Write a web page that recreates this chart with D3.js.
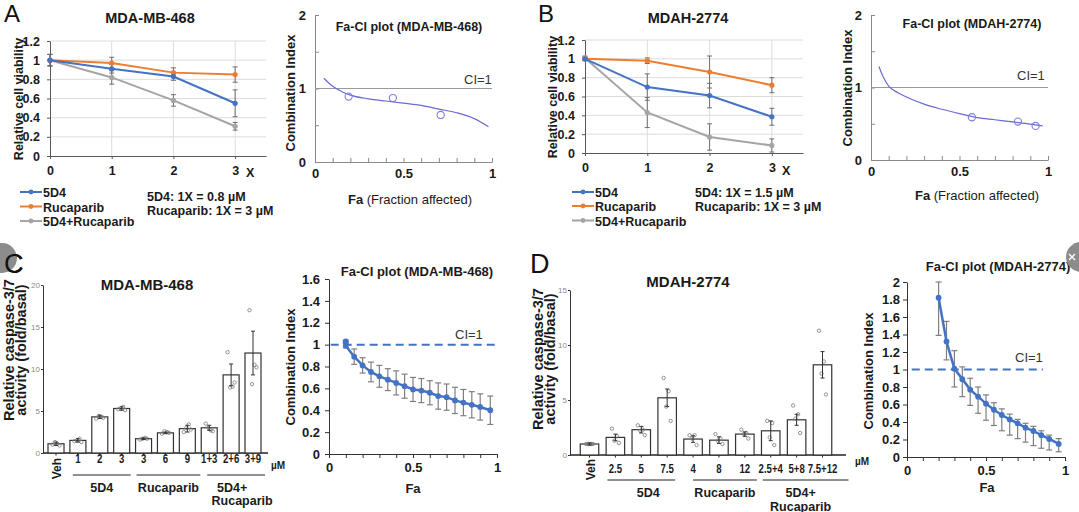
<!DOCTYPE html>
<html><head><meta charset="utf-8">
<script src="https://cdn.jsdelivr.net/npm/d3@7/dist/d3.min.js"></script>
<style>body{margin:0;background:#fff}svg{display:block}</style>
</head><body>
<svg id="chart" width="1079" height="512"></svg>
<script>
// ---------------- DATA ----------------
const doses = [0, 1, 2, 3];
const doseLabels = ["0", "1", "2", "3"];
const viabTicks = [0, 0.2, 0.4, 0.6, 0.8, 1, 1.2];
const viabTickLabels = ["0", "0.2", "0.4", "0.6", "0.8", "1", "1.2"];
const seriesNames = ["5D4", "Rucaparib", "5D4+Rucaparib"];

// Panel A (MDA-MB-468) viability
const viabA_5D4 = [1, 0.91, 0.83, 0.55];
const errA_5D4 = [0.06, 0.045, 0.04, 0.14];
const viabA_Ruca = [1, 0.97, 0.87, 0.85];
const errA_Ruca = [0.06, 0.06, 0.05, 0.08];
const viabA_Combo = [1, 0.82, 0.58, 0.31];
const errA_Combo = [0.06, 0.07, 0.06, 0.04];

// Panel B (MDAH-2774) viability
const viabB_5D4 = [1, 0.70, 0.61, 0.385];
const errB_5D4 = [0.02, 0.14, 0.13, 0.09];
const viabB_Ruca = [1, 0.98, 0.86, 0.72];
const errB_Ruca = [0.02, 0.03, 0.17, 0.08];
const viabB_Combo = [1.01, 0.43, 0.17, 0.08];
const errB_Combo = [0.02, 0.16, 0.14, 0.07];

// Fa-CI simulated curves (A, B right)
const ciAxisTicks = [0, 0.5, 1, 1.5, 2];
const ciAxisLabels = ["0", "", "1", "", "2"];
const faTicks = [0, 0.1, 0.2, 0.3, 0.4, 0.5, 0.6, 0.7, 0.8, 0.9, 1];
const faTickLabels = ["0", "", "", "", "", "0.5", "", "", "", "", "1"];
const faCurveA = [0.05, 0.1, 0.15, 0.2, 0.3, 0.4, 0.5, 0.6, 0.7, 0.8, 0.9, 0.98];
const ciCurveA = [1.14, 1.03, 0.96, 0.91, 0.86, 0.83, 0.8, 0.77, 0.72, 0.67, 0.59, 0.48];
const faPtsA = [0.19, 0.44, 0.71];
const ciPtsA = [0.89, 0.87, 0.64];
const faCurveB = [0.045, 0.07, 0.1, 0.15, 0.2, 0.3, 0.4, 0.5, 0.6, 0.7, 0.8, 0.9, 0.97];
const ciCurveB = [1.29, 1.14, 1.02, 0.93, 0.87, 0.77, 0.7, 0.64, 0.585, 0.555, 0.525, 0.495, 0.47];
const faPtsB = [0.57, 0.83, 0.93];
const ciPtsB = [0.59, 0.53, 0.47];

// Panel C caspase bars (MDA-MB-468)
const catsC = ["Veh", "1", "2", "3", "3", "6", "9", "1+3", "2+6", "3+9"];
const meanC = [1.1, 1.5, 4.3, 5.3, 1.7, 2.4, 2.9, 3.0, 9.3, 11.9];
const errC = [0.2, 0.2, 0.2, 0.2, 0.1, 0.1, 0.4, 0.3, 1.3, 2.6];
const dotsC = [
  [1.0, 1.1, 1.3, 0.9], [1.4, 1.7, 1.5, 1.3], [4.1, 4.3, 4.4, 4.2], [5.2, 5.5, 5.3, 5.1],
  [1.6, 1.8, 1.7, 1.7], [2.3, 2.5, 2.6, 2.4], [2.5, 3.4, 3.0, 2.8], [3.5, 2.7, 3.0, 2.6],
  [12.0, 7.9, 7.8, 8.4], [17.0, 10.5, 8.2, 10.2]
];
const casTicksC = [0, 5, 10, 15, 20];
const groupsC = [["5D4", 1, 3], ["Rucaparib", 4, 6], ["5D4+|Rucaparib", 7, 9]];

// Panel D caspase bars (MDAH-2774)
const catsD = ["Veh", "2.5", "5", "7.5", "4", "8", "12", "2.5+4", "5+8", "7.5+12"];
const meanD = [1.0, 1.6, 2.3, 5.2, 1.45, 1.35, 1.9, 2.2, 3.2, 8.2];
const errD = [0.1, 0.3, 0.3, 0.8, 0.3, 0.3, 0.2, 0.9, 0.5, 1.2];
const dotsD = [
  [1.0, 1.0, 1.0, 1.0], [2.4, 1.7, 1.3, 1.1], [2.7, 2.3, 2.2, 1.8], [7.0, 5.8, 4.4, 3.1],
  [1.8, 1.8, 1.5, 0.9], [1.9, 1.5, 1.3, 1.0], [2.3, 2.0, 1.9, 1.5], [3.1, 2.9, 1.6, 0.9],
  [4.5, 3.7, 3.3, 2.0], [11.3, 8.5, 7.4, 5.5]
];
const casTicksD = [0, 5, 10, 15];
const groupsD = [["5D4", 1, 3], ["Rucaparib", 4, 6], ["5D4+|Rucaparib", 7, 9]];

// Panel C right Fa-CI with error bars
const ciTicksC = [0, 0.2, 0.4, 0.6, 0.8, 1, 1.2, 1.4, 1.6];
const ciTickLabelsC = ["0", "0.2", "0.4", "0.6", "0.8", "1", "1.2", "1.4", "1.6"];
const faC = [0.1, 0.1, 0.15, 0.2, 0.25, 0.3, 0.35, 0.4, 0.45, 0.5, 0.55, 0.6, 0.65, 0.7, 0.75, 0.8, 0.85, 0.9, 0.96];
const ciC = [1.03, 0.99, 0.89, 0.81, 0.75, 0.71, 0.68, 0.65, 0.62, 0.59, 0.58, 0.56, 0.53, 0.52, 0.49, 0.47, 0.45, 0.43, 0.40];
const ciErrC = [0.01, 0.02, 0.07, 0.07, 0.09, 0.1, 0.1, 0.11, 0.11, 0.11, 0.11, 0.11, 0.12, 0.12, 0.12, 0.12, 0.12, 0.12, 0.13];

// Panel D right Fa-CI with error bars
const ciTicksD = [0, 0.2, 0.4, 0.6, 0.8, 1, 1.2, 1.4, 1.6, 1.8, 2];
const ciTickLabelsD = ["0", "0.2", "0.4", "0.6", "0.8", "1", "1.2", "1.4", "1.6", "1.8", "2"];
const faD = [0.2, 0.25, 0.3, 0.35, 0.4, 0.45, 0.5, 0.55, 0.6, 0.65, 0.7, 0.75, 0.8, 0.85, 0.9, 0.96];
const ciD = [1.82, 1.32, 1.01, 0.89, 0.77, 0.69, 0.61, 0.54, 0.48, 0.43, 0.385, 0.335, 0.297, 0.25, 0.206, 0.15];
const ciHiD = [2.0, 1.55, 1.215, 1.03, 0.9, 0.8, 0.71, 0.62, 0.55, 0.49, 0.43, 0.385, 0.35, 0.30, 0.25, 0.21];
const ciLoD = [1.39, 1.11, 0.80, 0.69, 0.59, 0.50, 0.42, 0.36, 0.30, 0.25, 0.21, 0.17, 0.13, 0.10, 0.08, 0.06];

// ---------------- DRAWING ----------------
const FONT = '"Liberation Sans", Arial, Helvetica, sans-serif';
const seriesColors = ["#4472C4", "#ED7D31", "#A5A5A5"];
const svg = d3.select("#chart").attr("font-family", FONT);
svg.append("rect").attr("width", 1079).attr("height", 512).attr("fill", "#fff");

function label(g, x, y, s, o = {}) {
  const t = g.append("text").attr("x", x).attr("y", y)
    .attr("font-size", o.size || 13)
    .attr("font-weight", o.weight || "bold")
    .attr("fill", o.fill || "#1a1a1a")
    .attr("text-anchor", o.anchor || "start")
    .text(s);
  if (o.sx) t.attr("x", 0).attr("y", 0).attr("transform", `translate(${x},${y}) scale(${o.sx},1)`);
  else if (o.rotate) t.attr("transform", `rotate(${o.rotate},${x},${y})`);
  return t;
}
function styleAxis(ax, o) {
  ax.attr("font-family", FONT).attr("font-size", o.size).attr("font-weight", o.weight || "bold");
  ax.select(".domain").attr("stroke", o.stroke).attr("stroke-width", o.sw || 1);
  ax.selectAll(".tick line").attr("stroke", o.stroke).attr("stroke-width", o.sw || 1);
  ax.selectAll(".tick text").attr("fill", o.fill || "#1a1a1a");
}
function errBars(g, pts, cap, color, sw) {
  const eg = g.append("g").attr("stroke", color).attr("stroke-width", sw);
  eg.selectAll(".v").data(pts).join("line").attr("class", "v")
    .attr("x1", d => d.x).attr("x2", d => d.x).attr("y1", d => d.lo).attr("y2", d => d.hi);
  eg.selectAll(".t").data(pts).join("line").attr("class", "t")
    .attr("x1", d => d.x - cap).attr("x2", d => d.x + cap).attr("y1", d => d.hi).attr("y2", d => d.hi);
  eg.selectAll(".b").data(pts).join("line").attr("class", "b")
    .attr("x1", d => d.x - cap).attr("x2", d => d.x + cap).attr("y1", d => d.lo).attr("y2", d => d.lo);
}

function viabilityPanel(p) {
  const g = svg.append("g");
  const x = d3.scaleLinear().domain([0, 3.5]).range([p.left, p.right]);
  const y = d3.scaleLinear().domain([0, 1.2]).range([p.bottom, p.top]);
  g.append("g").selectAll("line").data(viabTicks.slice(1)).join("line")
    .attr("x1", x(0)).attr("x2", x(3.5)).attr("y1", d => y(d)).attr("y2", d => y(d)).attr("stroke", "#dcdcdc");
  g.append("g").selectAll("line").data(doses.slice(1)).join("line")
    .attr("x1", d => x(d)).attr("x2", d => x(d)).attr("y1", y(0)).attr("y2", y(1.2)).attr("stroke", "#dcdcdc");
  const ya = g.append("g").attr("transform", `translate(${x(0)},0)`)
    .call(d3.axisLeft(y).tickValues(viabTicks).tickFormat((d, i) => viabTickLabels[i]).tickSize(3).tickSizeOuter(0).tickPadding(7));
  styleAxis(ya, { size: 12.5, stroke: "#595959" });
  const xa = g.append("g").attr("transform", `translate(0,${y(0)})`)
    .call(d3.axisBottom(x).tickValues(doses).tickFormat((d, i) => doseLabels[i]).tickSize(3).tickSizeOuter(0).tickPadding(p.xPad));
  styleAxis(xa, { size: 12.5, stroke: "#595959" });
  label(g, p.xUnitX, p.xUnitY, "X", { size: 12.5 });
  const order = [2, 1, 0];
  order.forEach(si => {
    const s = p.series[si];
    errBars(g, doses.map((d, i) => ({ x: x(d), lo: y(s.v[i] - s.e[i]), hi: y(s.v[i] + s.e[i]) })), 2.5, "#6f6f6f", 1);
  });
  order.forEach(si => {
    const s = p.series[si];
    const line = d3.line().x((d, i) => x(doses[i])).y(d => y(d));
    g.append("path").attr("d", line(s.v)).attr("fill", "none").attr("stroke", seriesColors[si]).attr("stroke-width", 2);
    g.append("g").selectAll("circle").data(s.v).join("circle")
      .attr("cx", (d, i) => x(doses[i])).attr("cy", d => y(d)).attr("r", 2.6).attr("fill", seriesColors[si]);
  });
  seriesNames.forEach((n, i) => {
    const ly = p.legY[i];
    g.append("line").attr("x1", p.legX).attr("x2", p.legX + 22).attr("y1", ly).attr("y2", ly)
      .attr("stroke", seriesColors[i]).attr("stroke-width", 2);
    g.append("circle").attr("cx", p.legX + 11).attr("cy", ly).attr("r", 2.4).attr("fill", seriesColors[i]);
    label(g, p.legX + 23, ly + 5, n, { size: 12.5 });
  });
  p.notes.forEach((t, i) => label(g, p.noteX, p.noteY[i], t, { size: 12.5 }));
  label(g, p.titleX, p.titleY, p.title, { size: 14.5, anchor: "middle" });
  label(g, p.ytX, p.ytY, "Relative cell viability", { size: 12.5, anchor: "middle", rotate: -90 });
  label(g, p.letterX, 22, p.letter, { size: 24, weight: "normal", fill: "#111" });
}

function ciCurvePanel(p) {
  const g = svg.append("g");
  const x = d3.scaleLinear().domain([0, 1]).range([p.left, p.right]);
  const y = d3.scaleLinear().domain([0, 2]).range([p.bottom, p.top]);
  const ya = g.append("g").attr("transform", `translate(${x(0)},0)`)
    .call(d3.axisLeft(y).tickValues(ciAxisTicks).tickFormat((d, i) => ciAxisLabels[i]).tickSize(-4).tickSizeOuter(0).tickPadding(9));
  styleAxis(ya, { size: 13, stroke: "#8a8a8a" });
  const xa = g.append("g").attr("transform", `translate(0,${y(0)})`)
    .call(d3.axisBottom(x).tickValues(faTicks).tickFormat((d, i) => faTickLabels[i]).tickSize(-4).tickSizeOuter(0).tickPadding(7));
  styleAxis(xa, { size: 13, stroke: "#8a8a8a" });
  g.append("line").attr("x1", x(0)).attr("x2", x(1)).attr("y1", y(1)).attr("y2", y(1)).attr("stroke", "#9a9a9a");
  const line = d3.line().x((d, i) => x(p.fa[i])).y(d => y(d)).curve(d3.curveMonotoneX);
  g.append("path").attr("d", line(p.ci)).attr("fill", "none").attr("stroke", "#6a6ad4").attr("stroke-width", 1.2);
  g.append("g").selectAll("circle").data(p.pci).join("circle")
    .attr("cx", (d, i) => x(p.pfa[i])).attr("cy", d => y(d)).attr("r", 3.6)
    .attr("fill", "none").attr("stroke", "#7d7de0").attr("stroke-width", 1.1);
  label(g, p.ciX, p.ciY, "CI=1", { size: 13, weight: "normal", fill: "#333" });
  label(g, p.titleX, p.titleY, p.title, { size: 12.5, anchor: "middle" });
  label(g, p.ytX, p.ytY, "Combination Index", { size: 13, anchor: "middle", rotate: -90 });
  const t = g.append("text").attr("x", p.xtX).attr("y", p.xtY).attr("text-anchor", "middle")
    .attr("font-size", 13).attr("fill", "#1a1a1a");
  t.append("tspan").attr("font-weight", "bold").text("Fa");
  t.append("tspan").text(" (Fraction affected)");
}

function barPanel(p) {
  const g = svg.append("g");
  const idx = d3.range(p.cats.length);
  const x = d3.scalePoint().domain(idx).range([p.first, p.last]);
  const y = d3.scaleLinear().domain([0, p.ymax]).range([p.bottom, p.top]);
  const ya = g.append("g").attr("transform", `translate(${p.axisX},0)`)
    .call(d3.axisLeft(y).tickValues(p.ticks).tickSize(2).tickSizeOuter(0).tickPadding(1));
  styleAxis(ya, { size: 8, weight: "normal", stroke: "#333", fill: "#8a8a8a" });
  g.append("line").attr("x1", p.axisX).attr("x2", p.axisRight).attr("y1", y(0)).attr("y2", y(0))
    .attr("stroke", "#222").attr("stroke-width", 1.4);
  g.append("g").selectAll("line").data(idx).join("line")
    .attr("x1", d => x(d)).attr("x2", d => x(d)).attr("y1", y(0)).attr("y2", y(0) + 2.5).attr("stroke", "#222");
  g.append("g").selectAll("rect").data(p.mean).join("rect")
    .attr("x", (d, i) => x(i) - p.bw / 2).attr("y", d => y(d))
    .attr("width", p.bw).attr("height", d => y(0) - y(d))
    .attr("fill", "#fff").attr("stroke", "#333").attr("stroke-width", 1.2);
  const jit = [-3.5, 1.5, -1, 3.5];
  const dots = [];
  p.dots.forEach((arr, i) => arr.forEach((v, k) => dots.push({ x: x(i) + jit[k], y: y(v) })));
  g.append("g").selectAll("circle").data(dots).join("circle")
    .attr("cx", d => d.x).attr("cy", d => d.y).attr("r", 1.7)
    .attr("fill", "none").attr("stroke", "#7a7a7a").attr("stroke-width", 0.8);
  errBars(g, p.mean.map((m, i) => ({ x: x(i), lo: y(m - p.err[i]), hi: y(m + p.err[i]) })), 2, "#333", 1);
  p.cats.forEach((c, i) => {
    if (i === 0) label(g, p.vehX, p.vehY, c, { size: 12, anchor: "end", rotate: -90 });
    else label(g, x(i), p.labY, c, { size: 12, anchor: "middle", sx: 0.8 });
  });
  label(g, p.umX, p.umY, "\u00B5M", { size: 10 });
  p.groups.forEach((gr, k) => {
    const x1 = x(gr[1]) + p.gx[k][0], x2 = x(gr[2]) + p.gx[k][1];
    g.append("line").attr("x1", x1).attr("x2", x2).attr("y1", p.gLineY).attr("y2", p.gLineY)
      .attr("stroke", "#222").attr("stroke-width", 1.2);
    gr[0].split("|").forEach((s, j) => label(g, (x1 + x2) / 2 + p.gdx[k][j], p.gLabY + j * 13.5, s, { size: 12.5, anchor: "middle" }));
  });
  label(g, p.titleX, p.titleY, p.title, { size: 15, anchor: "middle" });
  label(g, p.yt1X, p.ytY, "Relative caspase-3/7", { size: 14.5, anchor: "middle", rotate: -90 });
  label(g, p.yt2X, p.ytY, "activity (fold/basal)", { size: 14.5, anchor: "middle", rotate: -90 });
  label(g, p.letterX, 273, p.letter, { size: 27, weight: "normal", fill: "#111" });
}

function ciErrPanel(p) {
  const g = svg.append("g");
  const x = d3.scaleLinear().domain([0, 1]).range([p.left, p.right]);
  const y = d3.scaleLinear().domain([0, p.ymax]).range([p.bottom, p.top]);
  const ya = g.append("g").attr("transform", `translate(${x(0)},0)`)
    .call(d3.axisLeft(y).tickValues(p.ticks).tickFormat((d, i) => p.tickLabels[i]).tickSize(4).tickSizeOuter(0).tickPadding(p.yPad));
  styleAxis(ya, { size: 13, stroke: "#333" });
  const xa = g.append("g").attr("transform", `translate(0,${y(0)})`)
    .call(d3.axisBottom(x).tickValues(faTicks).tickFormat((d, i) => faTickLabels[i]).tickSize(4).tickSizeOuter(0).tickPadding(5));
  styleAxis(xa, { size: 13, stroke: "#333" });
  g.append("line").attr("x1", x(p.dash[0])).attr("x2", x(p.dash[1])).attr("y1", y(1)).attr("y2", y(1))
    .attr("stroke", "#4472C4").attr("stroke-width", 2).attr("stroke-dasharray", "8,5");
  errBars(g, p.fa.map((f, i) => ({ x: x(f), lo: y(p.lo[i]), hi: y(p.hi[i]) })), 3, "#7f7f7f", 1.2);
  const line = d3.line().x((d, i) => x(p.fa[i])).y(d => y(d));
  g.append("path").attr("d", line(p.ci)).attr("fill", "none").attr("stroke", "#4472C4").attr("stroke-width", 2.5);
  g.append("g").selectAll("circle").data(p.ci).join("circle")
    .attr("cx", (d, i) => x(p.fa[i])).attr("cy", d => y(d)).attr("r", 2.9).attr("fill", "#4472C4");
  label(g, p.ciX, p.ciY, "CI=1", { size: 13, weight: "normal", fill: "#333" });
  label(g, p.titleX, p.titleY, p.title, { size: 13, anchor: "middle" });
  label(g, p.ytX, p.ytY, "Combination Index", { size: 13, anchor: "middle", rotate: -90 });
  label(g, p.xtX, p.xtY, "Fa", { size: 13, anchor: "middle" });
}

// ---- Panel A ----
viabilityPanel({
  left: 50, right: 266, top: 41, bottom: 156, xPad: 7.5, xUnitX: 246, xUnitY: 177,
  series: [{ v: viabA_5D4, e: errA_5D4 }, { v: viabA_Ruca, e: errA_Ruca }, { v: viabA_Combo, e: errA_Combo }],
  legX: 20, legY: [192, 206.5, 221],
  notes: ["5D4: 1X = 0.8 \u00B5M", "Rucaparib: 1X = 3 \u00B5M"], noteX: 147, noteY: [201, 215],
  title: "MDA-MB-468", titleX: 150, titleY: 22.5, ytX: 23, ytY: 99, letter: "A", letterX: 4
});
ciCurvePanel({
  left: 315, right: 492, top: 15, bottom: 162,
  fa: faCurveA, ci: ciCurveA, pfa: faPtsA, pci: ciPtsA,
  ciX: 464, ciY: 84, title: "Fa-CI plot (MDA-MB-468)", titleX: 409, titleY: 31,
  ytX: 295, ytY: 93, xtX: 410, xtY: 204
});
// ---- Panel B ----
viabilityPanel({
  left: 585, right: 803, top: 40, bottom: 153, xPad: 7, xUnitX: 782, xUnitY: 175,
  series: [{ v: viabB_5D4, e: errB_5D4 }, { v: viabB_Ruca, e: errB_Ruca }, { v: viabB_Combo, e: errB_Combo }],
  legX: 572, legY: [192, 206, 220.5],
  notes: ["5D4: 1X = 1.5 \u00B5M", "Rucaparib: 1X = 3 \u00B5M"], noteX: 695, noteY: [196.5, 211],
  title: "MDAH-2774", titleX: 688, titleY: 22.5, ytX: 557, ytY: 97, letter: "B", letterX: 538
});
ciCurvePanel({
  left: 871, right: 1048, top: 15, bottom: 160,
  fa: faCurveB, ci: ciCurveB, pfa: faPtsB, pci: ciPtsB,
  ciX: 1017, ciY: 80, title: "Fa-CI plot (MDAH-2774)", titleX: 972, titleY: 28,
  ytX: 852, ytY: 88, xtX: 977, xtY: 200
});
// ---- Panel C ----
barPanel({
  cats: catsC, mean: meanC, err: errC, dots: dotsC, ticks: casTicksC, ymax: 20,
  first: 56, last: 253, bw: 16, top: 285, bottom: 453, axisX: 43, axisRight: 268,
  labY: 463, vehX: 61, vehY: 458, umX: 271, umY: 469,
  groups: groupsC, gx: [[-5, 9], [-7, 13], [-2, 12]], gdx: [[0], [0], [-4, 6]], gLineY: 475, gLabY: 491.5,
  title: "MDA-MB-468", titleX: 147, titleY: 290, yt1X: 13.5, yt2X: 25.5, ytY: 350, letter: "C", letterX: 4
});
ciErrPanel({
  left: 329, right: 497, top: 279, bottom: 454, ymax: 1.6, ticks: ciTicksC, tickLabels: ciTickLabelsC, yPad: 5,
  fa: faC, ci: ciC, lo: ciC.map((c, i) => c - ciErrC[i]), hi: ciC.map((c, i) => c + ciErrC[i]), dash: [0.01, 1],
  ciX: 455, ciY: 339, title: "Fa-CI plot (MDA-MB-468)", titleX: 417, titleY: 276,
  ytX: 295, ytY: 367, xtX: 413, xtY: 493
});
// ---- Panel D ----
barPanel({
  cats: catsD, mean: meanD, err: errD, dots: dotsD, ticks: casTicksD, ymax: 15,
  first: 589.5, last: 822.5, bw: 18.5, top: 290, bottom: 455, axisX: 570, axisRight: 846,
  labY: 473, vehX: 595, vehY: 459, umX: 855, umY: 465,
  groups: groupsD, gx: [[-8, 8], [0, 12], [-8, 26]], gdx: [[7], [0], [-5, -5]], gLineY: 480, gLabY: 497,
  title: "MDAH-2774", titleX: 688, titleY: 287, yt1X: 543, yt2X: 555, ytY: 359, letter: "D", letterX: 530
});
ciErrPanel({
  left: 907, right: 1065, top: 282, bottom: 457, ymax: 2, ticks: ciTicksD, tickLabels: ciTickLabelsD, yPad: 3,
  fa: faD, ci: ciD, lo: ciLoD, hi: ciHiD, dash: [0.03, 0.86],
  ciX: 1015, ciY: 362, title: "Fa-CI plot (MDAH-2774)", titleX: 998, titleY: 271,
  ytX: 873, ytY: 371, xtX: 987, xtY: 492
});

// page overlay buttons visible in the screenshot
const ov = svg.append("g");
ov.append("circle").attr("cx", 2).attr("cy", 258).attr("r", 15).attr("fill", "#8c8c8c");
ov.append("circle").attr("cx", 1081).attr("cy", 257).attr("r", 15).attr("fill", "#8c8c8c");
ov.append("path").attr("d", "M1069,254 L1075,260 M1075,254 L1069,260")
  .attr("stroke", "#fff").attr("stroke-width", 1.4);
label(ov, 4, 273, "C", { size: 27, weight: "normal", fill: "#111" });
</script>
</body></html>
